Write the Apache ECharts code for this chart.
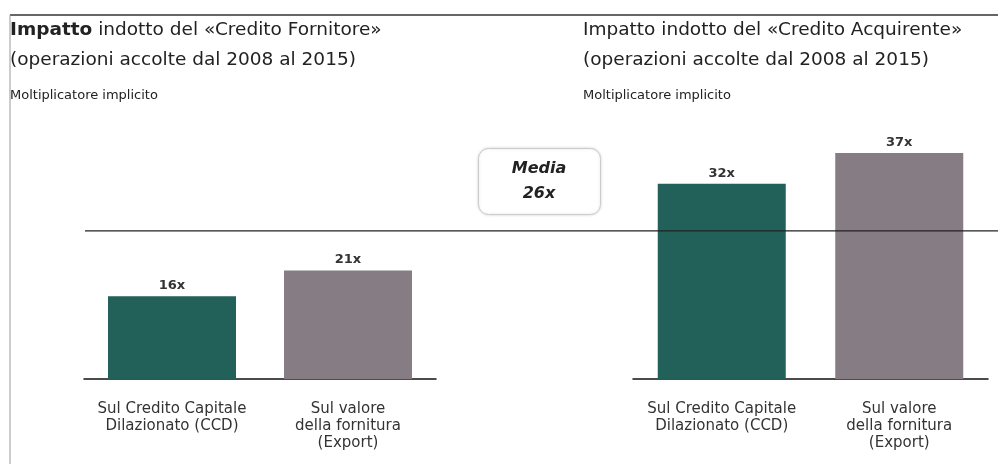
<!DOCTYPE html>
<html>
<head>
<meta charset="utf-8">
<script src="https://cdn.jsdelivr.net/npm/echarts@6/dist/echarts.min.js"></script>
<style>
  html, body { margin: 0; padding: 0; background: #fff; }
  #chart { width: 998px; height: 464px; }
</style>
</head>
<body>
<div id="chart"></div>
<script>
var categories = ['Sul Credito Capitale\nDilazionato (CCD)', 'Sul valore\ndella fornitura\n(Export)'];
var fornitoreValues = [16, 21];
var acquirenteValues = [32, 37];
var mediaValue = 26;
var colors = ['#22615a', '#857c84'];

var font = 'DejaVu Sans';
var myChart = echarts.init(document.getElementById('chart'));

function barData(values) {
    return values.map(function (v, i) {
        return { value: v, itemStyle: { color: colors[i] } };
    });
}

function titleBlock(left, name, boldFirst) {
    var first = boldFirst ? '{b|Impatto} indotto' : 'Impatto indotto';
    return {
        left: left,
        top: 15,
        text: first + ' del «' + name + '»\n(operazioni accolte dal 2008 al 2015)',
        textStyle: {
            fontFamily: font, fontSize: 18.5, fontWeight: 'normal', color: '#222', lineHeight: 30,
            rich: { b: { fontFamily: font, fontSize: 18.5, fontWeight: 'bold', color: '#222', lineHeight: 30 } }
        },
        subtext: 'Moltiplicatore implicito',
        subtextStyle: { fontFamily: font, fontSize: 13, color: '#222', lineHeight: 14 },
        itemGap: 14,
        padding: 0
    };
}

var catAxis = function (gridIndex) {
    return {
        type: 'category',
        gridIndex: gridIndex,
        data: categories,
        axisTick: { show: false },
        axisLine: { lineStyle: { color: '#111', width: 1.5 } },
        axisLabel: {
            fontFamily: font, fontSize: 15, color: '#333',
            lineHeight: 17, margin: 22, interval: 0
        }
    };
};

var valAxis = function (gridIndex, max) {
    return {
        type: 'value',
        gridIndex: gridIndex,
        min: 0,
        max: max,
        show: false
    };
};

var barLabel = {
    show: true,
    position: 'top',
    distance: 4,
    formatter: '{c}x',
    fontFamily: font,
    fontSize: 13,
    fontWeight: 'bold',
    color: '#333'
};

var option = {
    backgroundColor: '#fff',
    animation: false,
    title: [titleBlock(10, 'Credito Fornitore', true), titleBlock(583, 'Credito Acquirente', false)],
    grid: [
        { left: 84, width: 352, top: 100, bottom: 85 },
        { left: 633, width: 355, top: 100, bottom: 85 },
        { left: 85, right: 0, top: 100, bottom: 85 }
    ],
    xAxis: [
        catAxis(0),
        catAxis(1),
        { type: 'category', gridIndex: 2, data: ['a', 'b'], boundaryGap: false, show: false }
    ],
    yAxis: [
        valAxis(0, 54),
        valAxis(1, 45.7),
        valAxis(2, 49)
    ],
    series: [
        {
            type: 'bar', xAxisIndex: 0, yAxisIndex: 0,
            barWidth: 128, data: barData(fornitoreValues), label: barLabel
        },
        {
            type: 'bar', xAxisIndex: 1, yAxisIndex: 1,
            barWidth: 128, data: barData(acquirenteValues), label: barLabel
        },
        {
            type: 'line', xAxisIndex: 2, yAxisIndex: 2, z: 5,
            symbol: 'none',
            lineStyle: { color: '#222', width: 1.2 },
            data: [mediaValue, mediaValue]
        }
    ],
    graphic: [
        { type: 'line', shape: { x1: 10, y1: 15, x2: 998, y2: 15 }, style: { stroke: '#333', lineWidth: 1.5 } },
        { type: 'line', shape: { x1: 10, y1: 15, x2: 10, y2: 464 }, style: { stroke: '#999', lineWidth: 1 } },
        {
            type: 'rect', left: 478, top: 148,
            shape: { width: 122, height: 66, r: 10 },
            style: { fill: '#fff', stroke: '#ccc', lineWidth: 1, shadowBlur: 3, shadowColor: 'rgba(0,0,0,0.15)' }
        },
        {
            type: 'text', x: 539, y: 181,
            style: {
                text: 'Media\n' + mediaValue + 'x',
                fontFamily: font, fontSize: 16, fontStyle: 'italic', fontWeight: 'bold',
                fill: '#222', align: 'center', verticalAlign: 'middle', lineHeight: 25
            }
        }
    ]
};
myChart.setOption(option);
</script>
</body>
</html>
